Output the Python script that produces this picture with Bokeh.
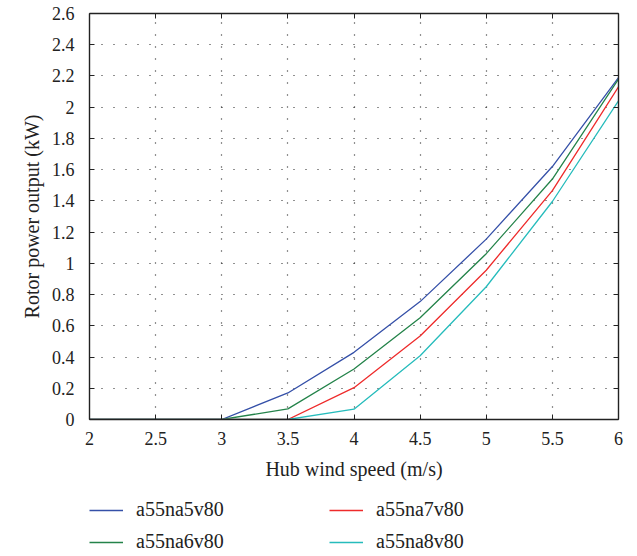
from bokeh.plotting import figure
from bokeh.layouts import column
from bokeh.models import (LinearAxis, FixedTicker, CustomJSTickFormatter, Legend,
                          LegendItem, Range1d)
from bokeh.embed import file_html
from bokeh.resources import INLINE

# ---- data ----
wind_speed = [2, 2.5, 3, 3.5, 4, 4.5, 5, 5.5, 6]
a55na5v80 = [0, 0, 0, 0.17, 0.43, 0.755, 1.155, 1.62, 2.19]
a55na6v80 = [0, 0, 0, 0.068, 0.323, 0.652, 1.062, 1.54, 2.18]
a55na7v80 = [0, 0, 0, 0, 0.204, 0.535, 0.956, 1.466, 2.13]
a55na8v80 = [0, 0, 0, 0, 0.066, 0.408, 0.85, 1.396, 2.04]
series_names = ["a55na5v80", "a55na6v80", "a55na7v80", "a55na8v80"]
series_values = [a55na5v80, a55na6v80, a55na7v80, a55na8v80]
series_colors = ["#3550a8", "#24834a", "#ee2b2b", "#26bcbc"]
x_ticks = [2, 2.5, 3, 3.5, 4, 4.5, 5, 5.5, 6]
y_ticks = [round(i * 0.2, 1) for i in range(14)]

FONT = "Liberation Serif"

p = figure(width=637, height=490, output_backend="svg", toolbar_location=None,
           x_range=Range1d(2, 6), y_range=Range1d(0, 2.6),
           min_border_left=89, min_border_right=19, min_border_top=13,
           min_border_bottom=71)
p.outline_line_color = None

fmt = CustomJSTickFormatter(code="return String(+tick.toFixed(2));")
blank = CustomJSTickFormatter(code="return '';")

for ax in (p.xaxis[0], p.yaxis[0]):
    ax.major_label_text_font = FONT
    ax.major_label_text_font_size = "18px"
    ax.major_label_text_color = "#222222"
    ax.axis_label_text_font = FONT
    ax.axis_label_text_font_size = "20px"
    ax.axis_label_text_font_style = "normal"
    ax.axis_label_text_color = "#222222"
    ax.major_tick_in = 5
    ax.major_tick_out = 0
    ax.minor_tick_line_color = None
    ax.axis_line_color = "#222222"
    ax.axis_line_width = 1.4
    ax.major_tick_line_color = "#222222"
    ax.formatter = fmt

p.xaxis.ticker = FixedTicker(ticks=x_ticks)
p.yaxis.ticker = FixedTicker(ticks=y_ticks)
p.xaxis.axis_label = "Hub wind speed (m/s)"
p.yaxis.axis_label = "Rotor power output (kW)"
p.xaxis.major_label_standoff = 12
p.yaxis.major_label_standoff = 15
p.xaxis.axis_label_standoff = 10
p.yaxis.axis_label_standoff = 6

for loc, ticks in (("right", y_ticks), ("above", x_ticks)):
    ax = LinearAxis(ticker=FixedTicker(ticks=ticks), formatter=blank,
                    major_label_standoff=0, major_tick_in=5, major_tick_out=0,
                    minor_tick_line_color=None, axis_line_color="#222222",
                    axis_line_width=1.4, major_tick_line_color="#222222")
    p.add_layout(ax, loc)

p.xgrid.ticker = FixedTicker(ticks=x_ticks)
p.ygrid.ticker = FixedTicker(ticks=y_ticks)
for g in (p.xgrid[0], p.ygrid[0]):
    g.grid_line_color = "#222222"
    g.grid_line_dash = "1 11"
    g.grid_line_width = 1.2

for name, vals, col in zip(series_names, series_values, series_colors):
    p.line(wind_speed, vals, line_color=col, line_width=1.3)

# legend panel (separate figure below, its lines lie outside its view)
pl = figure(width=637, height=66, output_backend="svg", toolbar_location=None,
            x_range=Range1d(100, 101), y_range=Range1d(100, 101),
            x_axis_type=None, y_axis_type=None,
            min_border_left=0, min_border_right=0, min_border_top=0,
            min_border_bottom=0)
pl.outline_line_color = None
pl.grid.visible = False
items = []
for name, vals, col in zip(series_names, series_values, series_colors):
    r = pl.line(wind_speed, vals, line_color=col, line_width=1.3)
    items.append(LegendItem(label=name, renderers=[r]))

legend = Legend(items=items, location=(0, 3), ncols=2, orientation="vertical",
                glyph_width=34, glyph_height=16, label_height=16, label_standoff=13,
                label_width=184, spacing=9, padding=0, margin=0,
                label_text_font=FONT, label_text_font_size="20px",
                label_text_color="#222222",
                border_line_alpha=0, background_fill_alpha=0)
pl.add_layout(legend, "center")

layout = column(p, pl, spacing=0)
open("out.html", "w").write(file_html(layout, INLINE))
